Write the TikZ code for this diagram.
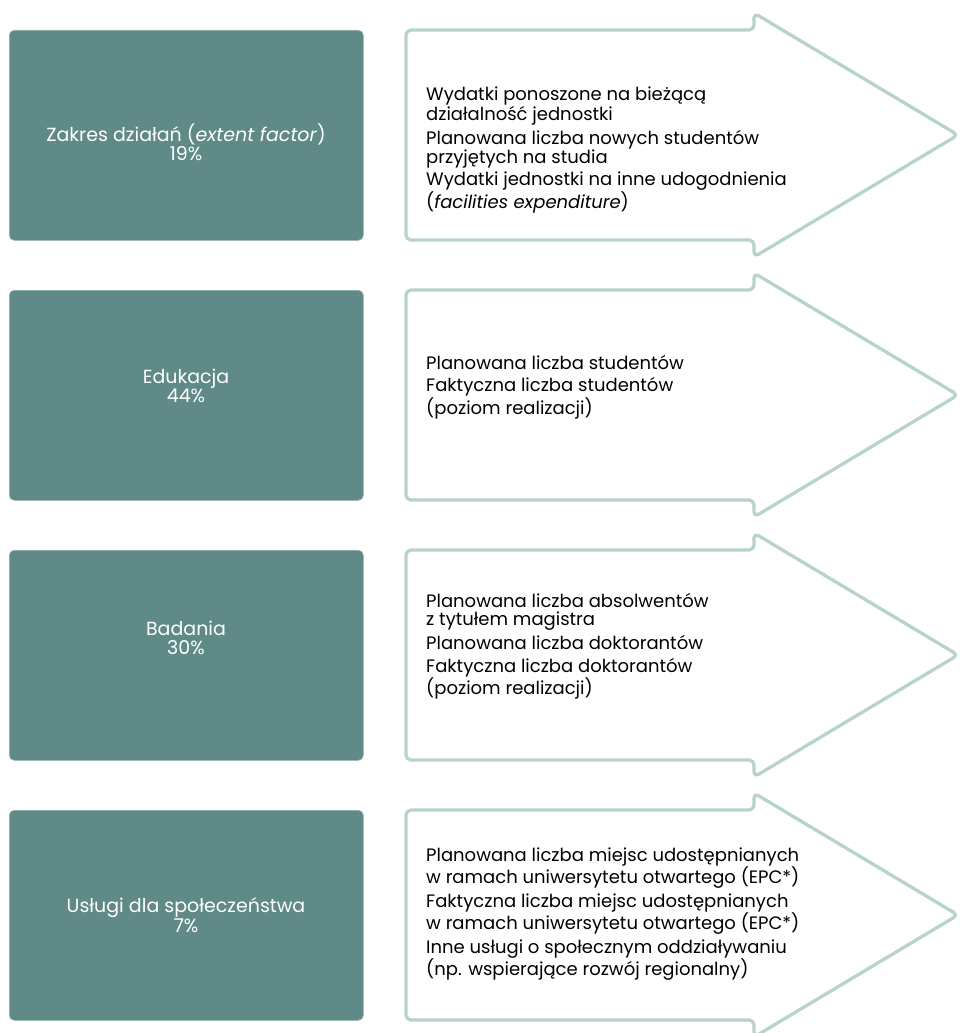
\documentclass[tikz,border=0pt]{standalone}
\usepackage{fontspec}
\setmainfont{Poppins}
\usetikzlibrary{positioning}
\definecolor{factorfill}{HTML}{5F8A87}
\definecolor{arrowline}{HTML}{B8D2CD}
\tikzset{
  factor/.style={rounded corners=5pt,fill=factorfill,draw=factorfill!70!white,line width=0.6pt,
    minimum width=354pt,minimum height=210pt,inner sep=0pt},
  factorlbl/.style={text=white,font=\fontsize{19}{19.5}\selectfont,align=center,inner sep=0pt},
  outline/.style={draw=arrowline,line width=3.3pt,rounded corners=5pt,line join=round},
  itemlist/.style={anchor=west,align=left,inner sep=0pt,font=\fontsize{18}{18.5}\selectfont},
}
\begin{document}
\begin{tikzpicture}[x=1pt,y=-1pt]
  \clip (0,0) rectangle (959,1033);
  % one factor box and one outlined arrow per row
  \foreach \t/\nm in {30/zakres,290/edu,550/bad,810/usl}{
    \node[factor,anchor=north west] (\nm) at (9,\t) {};
    \draw[outline] (406,\t) -- (754,\t) -- (754,\t-17) -- (958,\t+105)
      -- (754,\t+227) -- (754,\t+210) -- (406,\t+210) -- cycle;
  }
  % factor names and weights
  \node[factorlbl] (zakres-lbl) at (186,142) {Zakres działań (\textit{extent factor})\\19\%};
  \node[factorlbl] (edu-lbl) at (186,386) {Edukacja\\44\%};
  \node[factorlbl] (bad-lbl) at (186,638) {Badania\\30\%};
  \node[factorlbl] (usl-lbl) at (186,915) {Usługi dla społeczeństwa\\7\%};
  % indicators
  \node[itemlist] (zakres-txt) at (426,150) {Wydatki ponoszone na bieżącą\\działalność jednostki\\[4pt]
    Planowana liczba nowych studentów\\przyjętych na studia\\[4pt]
    Wydatki jednostki na inne udogodnienia\\(\textit{facilities expenditure})};
  \node[itemlist] (edu-txt) at (426,387) {Planowana liczba studentów\\[4pt]
    Faktyczna liczba studentów\\(poziom realizacji)};
  \node[itemlist] (bad-txt) at (426,646) {Planowana liczba absolwentów\\z tytułem magistra\\[4pt]
    Planowana liczba doktorantów\\[4pt]
    Faktyczna liczba doktorantów\\(poziom realizacji)};
  \node[itemlist] (usl-txt) at (426,914) {Planowana liczba miejsc udostępnianych\\w ramach uniwersytetu otwartego (EPC*)\\[4pt]
    Faktyczna liczba miejsc udostępnianych\\w ramach uniwersytetu otwartego (EPC*)\\[4pt]
    Inne usługi o społecznym oddziaływaniu\\(np. wspierające rozwój regionalny)};
\end{tikzpicture}
\end{document}
